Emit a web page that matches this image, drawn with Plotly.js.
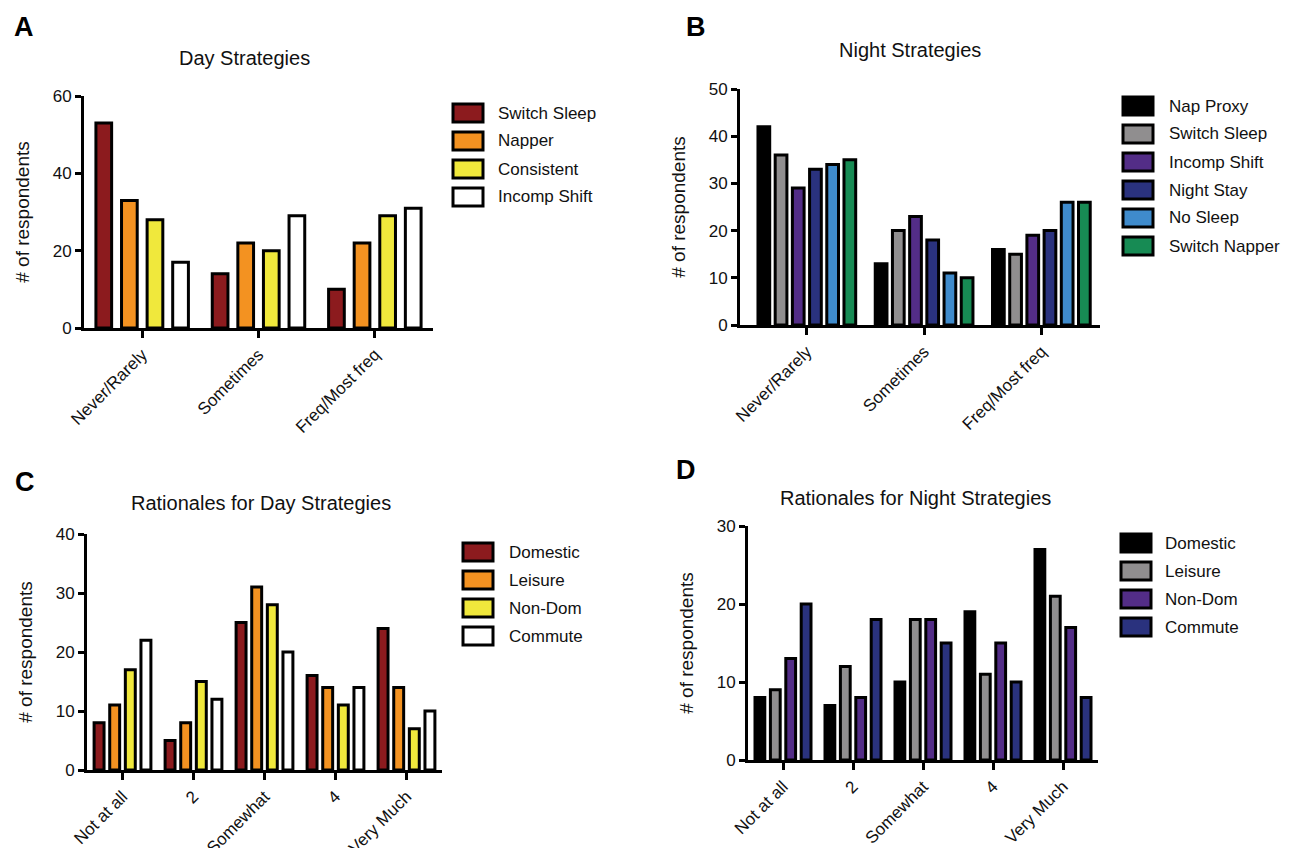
<!DOCTYPE html>
<html>
<head>
<meta charset="utf-8">
<script src="https://cdn.plot.ly/plotly-3.0.1.min.js"></script>
<style>html,body{margin:0;padding:0;background:#fff;}#chart{width:1303px;height:848px;}</style>
</head>
<body>
<div id="chart"></div>
<script>
// ---- data ----
const catsStrategy = ["Never/Rarely", "Sometimes", "Freq/Most freq"];
const catsRationale = ["Not at all", "2", "Somewhat", "4", "Very Much"];

const dayNames = ["Switch Sleep", "Napper", "Consistent", "Incomp Shift"];
const dayColors = ["#8C1B1E", "#F39221", "#F0E83C", "#FFFFFF"];
const daySwitchSleep = [53, 14, 10];
const dayNapper = [33, 22, 22];
const dayConsistent = [28, 20, 29];
const dayIncompShift = [17, 29, 31];

const nightNames = ["Nap Proxy", "Switch Sleep", "Incomp Shift", "Night Stay", "No Sleep", "Switch Napper"];
const nightColors = ["#000000", "#908E8F", "#532D87", "#2A327E", "#3F8BCC", "#178B54"];
const nightNapProxy = [42, 13, 16];
const nightSwitchSleep = [36, 20, 15];
const nightIncompShift = [29, 23, 19];
const nightNightStay = [33, 18, 20];
const nightNoSleep = [34, 11, 26];
const nightSwitchNapper = [35, 10, 26];

const ratNames = ["Domestic", "Leisure", "Non-Dom", "Commute"];
const ratDayColors = ["#8C1B1E", "#F39221", "#F0E83C", "#FFFFFF"];
const ratNightColors = ["#000000", "#908E8F", "#532D87", "#2A327E"];
const ratDayDomestic = [8, 5, 25, 16, 24];
const ratDayLeisure = [11, 8, 31, 14, 14];
const ratDayNonDom = [17, 15, 28, 11, 7];
const ratDayCommute = [22, 12, 20, 14, 10];
const ratNightDomestic = [8, 7, 10, 19, 27];
const ratNightLeisure = [9, 12, 18, 11, 21];
const ratNightNonDom = [13, 8, 18, 15, 17];
const ratNightCommute = [20, 18, 15, 10, 8];

const panelTitles = ["Day Strategies", "Night Strategies", "Rationales for Day Strategies", "Rationales for Night Strategies"];
const panelLetters = ["A", "B", "C", "D"];
const yTitle = "# of respondents";

// ---- layout helpers ----
const W = 1303, H = 848;
const px = x => x / W;
const py = y => 1 - y / H;
const FONT = "Liberation Sans, Arial, Helvetica, sans-serif";

const panels = [
  {xa: "x", ya: "y", cats: catsStrategy, names: dayNames, colors: dayColors,
   series: [daySwitchSleep, dayNapper, dayConsistent, dayIncompShift], barW: 0.135,
   dom: [84, 433, 96, 328], range: [0, 60], dtick: 20, xr: [-0.5, 2.5],
   title: [244, 58], letter: [24, 27], leg: {x: 453, y: 113, tx: 496}},
  {xa: "x2", ya: "y2", cats: catsStrategy, names: nightNames, colors: nightColors,
   series: [nightNapProxy, nightSwitchSleep, nightIncompShift, nightNightStay, nightNoSleep, nightSwitchNapper], barW: 0.1,
   dom: [740, 1100, 89, 325], range: [0, 50], dtick: 10, xr: [-0.57, 2.5],
   title: [910, 50], letter: [696, 27], leg: {x: 1123, y: 106, tx: 1167}},
  {xa: "x3", ya: "y3", cats: catsRationale, names: ratNames, colors: ratDayColors,
   series: [ratDayDomestic, ratDayLeisure, ratDayNonDom, ratDayCommute], barW: 0.14,
   dom: [87, 442, 534, 770], range: [0, 40], dtick: 10, xr: [-0.5, 4.5],
   title: [261, 503], letter: [25, 482], leg: {x: 463, y: 552, tx: 507}},
  {xa: "x4", ya: "y4", cats: catsRationale, names: ratNames, colors: ratNightColors,
   series: [ratNightDomestic, ratNightLeisure, ratNightNonDom, ratNightCommute], barW: 0.14,
   dom: [748, 1098, 526, 760], range: [0, 30], dtick: 10, xr: [-0.5, 4.5],
   title: [915, 498], letter: [686, 470], leg: {x: 1121, y: 543, tx: 1163}}
];

const traces = [];
const shapes = [];
const annotations = [];
const layout = {
  width: W, height: H,
  margin: {l: 0, r: 0, t: 0, b: 0},
  paper_bgcolor: "#fff", plot_bgcolor: "rgba(0,0,0,0)",
  font: {family: FONT, size: 17, color: "#111"},
  barmode: "group", bargap: 0.12, bargroupgap: 0,
  showlegend: false,
  shapes: shapes, annotations: annotations
};

panels.forEach((p, pi) => {
  p.series.forEach((vals, si) => {
    traces.push({
      type: "bar", x: p.cats, y: vals, name: p.names[si],
      xaxis: p.xa, yaxis: p.ya, width: p.barW,
      marker: {color: p.colors[si], line: {color: "#000", width: 3}},
      hoverinfo: "x+y+name"
    });
  });
  const xk = p.xa === "x" ? "xaxis" : "xaxis" + p.xa.slice(1);
  const yk = p.ya === "y" ? "yaxis" : "yaxis" + p.ya.slice(1);
  layout[xk] = {
    domain: [px(p.dom[0]), px(p.dom[1])], anchor: p.ya, type: "category",
    range: p.xr, showline: true, linecolor: "#000", linewidth: 3,
    ticks: "outside", ticklen: 7, tickwidth: 3, tickcolor: "#000",
    tickangle: -45, tickfont: {size: 17, color: "#111"},
    showgrid: false, zeroline: false, fixedrange: true
  };
  layout[yk] = {
    domain: [py(p.dom[3]), py(p.dom[2])], anchor: p.xa,
    range: p.range, dtick: p.dtick, tick0: 0,
    showline: true, linecolor: "#000", linewidth: 3,
    ticks: "outside", ticklen: 6, tickwidth: 3, tickcolor: "#000",
    tickfont: {size: 17, color: "#111"},
    showgrid: false, zeroline: false, fixedrange: true,
    title: {text: yTitle, font: {size: 19, color: "#111"}, standoff: 19}
  };
  annotations.push({
    text: "<b>" + panelLetters[pi] + "</b>", xref: "paper", yref: "paper",
    x: px(p.letter[0]), y: py(p.letter[1]), xanchor: "center", yanchor: "middle",
    showarrow: false, font: {size: 27, color: "#000"}
  });
  annotations.push({
    text: panelTitles[pi], xref: "paper", yref: "paper",
    x: px(p.title[0]), y: py(p.title[1]), xanchor: "center", yanchor: "middle",
    showarrow: false, font: {size: 20, color: "#111"}
  });
  p.names.forEach((nm, si) => {
    const cy = p.leg.y + si * 28;
    shapes.push({
      type: "rect", xref: "paper", yref: "paper",
      x0: px(p.leg.x), x1: px(p.leg.x + 30), y0: py(cy - 9), y1: py(cy + 9),
      fillcolor: p.colors[si], line: {color: "#000", width: 3}
    });
    annotations.push({
      text: nm, xref: "paper", yref: "paper",
      x: px(p.leg.tx), y: py(cy), xanchor: "left", yanchor: "middle",
      showarrow: false, font: {size: 17, color: "#111"}
    });
  });
});

Plotly.newPlot("chart", traces, layout, {displayModeBar: false, staticPlot: false});
</script>
</body>
</html>
